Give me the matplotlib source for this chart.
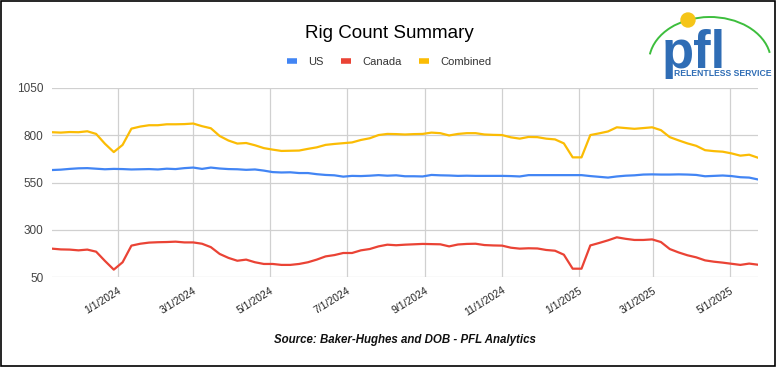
import numpy as np
import pandas as pd
import matplotlib
matplotlib.use("Agg")
import matplotlib.pyplot as plt
from matplotlib.patches import Arc, Ellipse, Rectangle

plt.rcParams['font.family'] = ['Liberation Sans', 'DejaVu Sans']

# weekly Baker-Hughes counts, Fridays from 11/10/2023 to 5/23/2025
dates = pd.date_range("2023-11-10", "2025-05-23", freq="7D")

us = [616, 618, 622, 625, 626, 623, 620, 622, 621, 619,
      620, 621, 619, 623, 621, 626, 629, 622, 629, 624,
      621, 620, 617, 619, 613, 605, 603, 604, 600, 600,
      594, 590, 588, 581, 585, 584, 586, 589, 586, 588,
      583, 583, 582, 590, 588, 587, 585, 586, 585, 585,
      585, 585, 584, 582, 589, 589, 589, 589, 589, 589,
      589, 584, 580, 576, 582, 586, 588, 592, 593, 592,
      592, 593, 592, 590, 583, 585, 587, 584, 578, 576,
      566]

canada = [200, 196, 195, 191, 195, 184, 135, 89, 128, 216,
          226, 232, 234, 235, 237, 233, 233, 226, 208, 172,
          151, 136, 142, 128, 119, 119, 114, 114, 119, 128,
          142, 159, 166, 177, 177, 191, 198, 212, 221, 218,
          221, 223, 225, 224, 223, 212, 222, 225, 226, 219,
          217, 216, 205, 200, 202, 201, 193, 189, 168, 94,
          94, 217, 230, 244, 260, 252, 246, 246, 249, 235,
          198, 180, 165, 154, 138, 131, 126, 120, 114, 121,
          115]

combined = [816, 814, 817, 816, 821, 807, 755, 711, 749, 835,
            846, 853, 853, 858, 858, 859, 862, 848, 837, 796,
            772, 756, 759, 747, 732, 724, 717, 718, 719, 728,
            736, 749, 754, 758, 762, 775, 784, 801, 807, 806,
            804, 806, 807, 814, 811, 799, 807, 811, 811, 804,
            802, 801, 789, 782, 791, 790, 782, 778, 757, 683,
            683, 801, 810, 820, 842, 838, 834, 838, 842, 827,
            790, 773, 757, 744, 721, 716, 713, 704, 692, 697,
            681]

yticks = [50, 300, 550, 800, 1050]
xticks = pd.to_datetime(["2024-01-01", "2024-03-01", "2024-05-01", "2024-07-01", "2024-09-01",
                         "2024-11-01", "2025-01-01", "2025-03-01", "2025-05-01"])

fig = plt.figure(figsize=(7.77, 3.67), dpi=100)
fig.patch.set_facecolor("white")
fig.patches.append(Rectangle((0.001, 0.002), 0.997, 0.995, transform=fig.transFigure,
                             fill=False, edgecolor="black", linewidth=1.2))

ax = fig.add_axes([52 / 777, 1 - 277 / 367, 706 / 777, 189 / 367])
ax.plot(dates, us, color="#4285F4", lw=1.6, label="US")
ax.plot(dates, canada, color="#EA4335", lw=1.6, label="Canada")
ax.plot(dates, combined, color="#FBBC04", lw=1.6, label="Combined")

ax.set_xlim(dates[0], dates[-1])
ax.set_ylim(50, 1050)
ax.set_yticks(yticks)
ax.set_xticks(xticks)
ax.set_xticklabels([f"{d.month}/{d.day}/{d.year}" for d in xticks], rotation=32,
                   ha="right", rotation_mode="anchor", fontsize=7.5, color="#222222")
ax.tick_params(axis="y", labelsize=8.5, colors="#444444", length=0, pad=6)
ax.tick_params(axis="x", length=0, pad=6)
ax.grid(True, color="#d0d0d0", lw=0.9)
ax.set_axisbelow(True)
for s in ax.spines.values():
    s.set_visible(False)

fig.text(389 / 777, 1 - 33 / 367, "Rig Count Summary", ha="center", va="center", fontsize=13.5)
leg = fig.legend(loc="center", bbox_to_anchor=(389 / 777, 1 - 62 / 367), ncol=3, frameon=False,
                 fontsize=8, handlelength=0.9, handletextpad=1.0, columnspacing=1.6,
                 labelcolor="#333333")
for h in leg.get_lines():
    h.set_linewidth(4)
    h.set_solid_capstyle("butt")

fig.text(405 / 777, 1 - 340 / 367, "Source: Baker-Hughes and DOB - PFL Analytics",
         ha="center", va="center", fontsize=8.3, fontweight="bold", style="italic", color="#111111")

# pfl logo
fig.patches.append(Arc((710 / 777, 1 - 62 / 367), 122 / 777, 90 / 367, theta1=18, theta2=165,
                       transform=fig.transFigure, color="#3DBE3D", lw=1.4))
fig.patches.append(Ellipse((688 / 777, 1 - 20 / 367), 14 / 777, 14 / 367,
                           transform=fig.transFigure, color="#F5C518", zorder=3))
fig.text(662 / 777, 1 - 68 / 367, "pfl", ha="left", va="baseline", fontsize=38,
         fontweight="bold", color="#2F6DB5", zorder=4)
fig.text(674 / 777, 1 - 74 / 367, "RELENTLESS SERVICE", ha="left", va="center",
         fontsize=6.2, fontweight="bold", color="#2F6DB5", zorder=5)

fig.savefig("out.png", dpi=100)
